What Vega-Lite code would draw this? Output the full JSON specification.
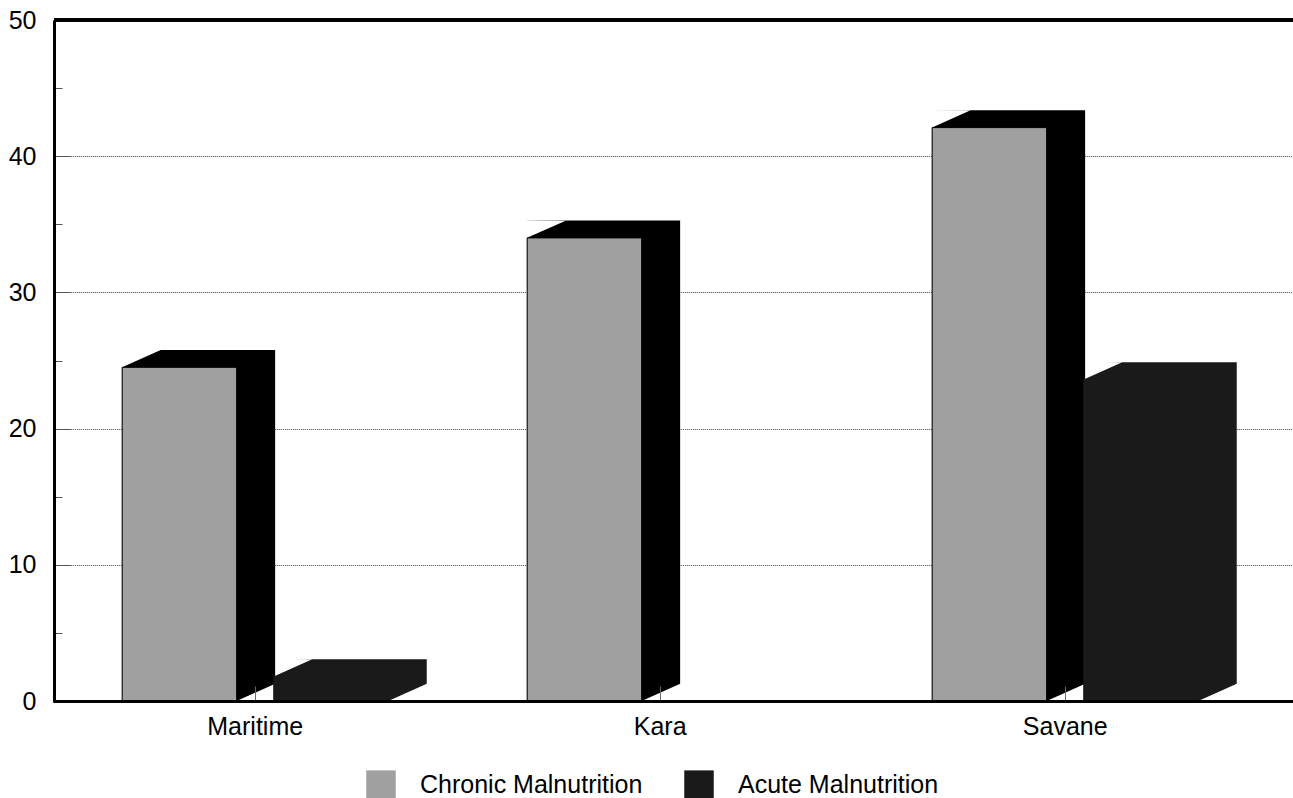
{
  "$schema": "https://vega.github.io/schema/vega-lite/v6.json",
  "width": 1239,
  "height": 681,
  "autosize": {"type": "none"},
  "padding": {"left": 54, "top": 20, "right": 0, "bottom": 97},
  "background": "white",
  "config": {
    "font": "Liberation Sans",
    "view": {"stroke": null},
    "axis": {"labelFont": "Liberation Sans", "labelColor": "black", "labelFontSize": 25, "title": null}
  },
  "data": {
    "values": [
      {"region": "Maritime", "series": "Chronic Malnutrition", "value": 24.5},
      {"region": "Maritime", "series": "Acute Malnutrition", "value": 1.8},
      {"region": "Kara", "series": "Chronic Malnutrition", "value": 34.0},
      {"region": "Savane", "series": "Chronic Malnutrition", "value": 42.1},
      {"region": "Savane", "series": "Acute Malnutrition", "value": 23.6}
    ]
  },
  "layer": [
    {
      "encoding": {
        "x": {
          "field": "region", "type": "nominal", "sort": ["Maritime", "Kara", "Savane"],
          "scale": {"range": [-1.3, 1239], "paddingInner": 0, "paddingOuter": 0.03125, "align": 0},
          "axis": {
            "labelAngle": 0, "domainColor": "black", "domainWidth": 3, "tickColor": "#666", "tickWidth": 1,
            "tickSize": -15, "labelPadding": 28, "zindex": 1
          }
        },
        "y": {
          "field": "value", "type": "quantitative",
          "scale": {"domain": [0, 50], "nice": false},
          "axis": {
            "values": [0, 5, 10, 15, 20, 25, 30, 35, 40, 45, 50],
            "labelExpr": "datum.value % 10 === 0 ? datum.label : ''",
            "domainColor": "black", "domainWidth": 3,
            "tickColor": "#555", "tickWidth": 1,
            "tickSize": {"condition": {"test": "datum.value % 10 === 0", "value": -16}, "value": -8},
            "labelPadding": 34,
            "grid": true, "gridColor": "#444", "gridWidth": 1, "gridDash": [1, 1],
            "gridOpacity": {"condition": {"test": "datum.value > 0 && datum.value < 50 && datum.value % 10 === 0", "value": 1}, "value": 0},
            "zindex": 0
          }
        }
      },
      "layer": [
        {
          "transform": [{"filter": "datum.series === 'Acute Malnutrition'"}],
          "mark": {"type": "bar", "width": 153, "xOffset": 95.05, "yOffset": -17.3, "y2Offset": 0.01, "fill": "#1a1a1a", "stroke": null},
          "encoding": {"y2": {"datum": 0}}
        },
        {
          "transform": [{"filter": "datum.series === 'Acute Malnutrition'"}],
          "mark": {"type": "point", "filled": true, "fill": "white", "opacity": 1, "strokeWidth": 0, "size": 1482,
                   "shape": "M-1.06,0.47L1,-0.449L-1.06,-0.47Z", "xOffset": 37.8, "yOffset": -8.65},
          "encoding": {}
        },
        {
          "transform": [{"filter": "datum.series === 'Acute Malnutrition'"}],
          "mark": {"type": "point", "filled": true, "fill": "white", "opacity": 1, "strokeWidth": 0, "size": 1482,
                   "shape": "M-1,0.449L1.06,-0.47L1.06,0.47Z", "xOffset": 152.3, "yOffset": -8.65},
          "encoding": {"y": {"datum": 0}}
        },
        {
          "transform": [{"filter": "datum.series === 'Chronic Malnutrition'"}],
          "mark": {"type": "bar", "width": 153, "xOffset": -56.55, "yOffset": -17.3, "y2Offset": 0.01, "fill": "#000000", "stroke": null},
          "encoding": {"y2": {"datum": 0}}
        },
        {
          "transform": [{"filter": "datum.series === 'Chronic Malnutrition'"}],
          "mark": {"type": "point", "filled": true, "fill": "white", "opacity": 1, "strokeWidth": 0, "size": 1482,
                   "shape": "M-1.06,0.47L1,-0.449L-1.06,-0.47Z", "xOffset": -113.8, "yOffset": -8.65},
          "encoding": {}
        },
        {
          "transform": [{"filter": "datum.series === 'Chronic Malnutrition'"}],
          "mark": {"type": "point", "filled": true, "fill": "white", "opacity": 1, "strokeWidth": 0, "size": 1482,
                   "shape": "M-1,0.449L1.06,-0.47L1.06,0.47Z", "xOffset": 0.7, "yOffset": -8.65},
          "encoding": {"y": {"datum": 0}}
        },
        {
          "transform": [{"filter": "datum.series === 'Chronic Malnutrition'"}],
          "mark": {"type": "bar", "width": 114.5, "xOffset": -75.8, "strokeWidth": 1, "stroke": "#000000"},
          "encoding": {
            "color": {
              "field": "series", "type": "nominal",
              "scale": {"domain": ["Chronic Malnutrition", "Acute Malnutrition"], "range": ["#a0a0a0", "#1a1a1a"]},
              "legend": {
                "orient": "none", "legendX": 312, "legendY": 750, "direction": "horizontal", "title": null,
                "symbolType": "square", "symbolSize": 870, "symbolStrokeWidth": 0,
                "labelFontSize": 25, "labelFont": "Liberation Sans", "labelColor": "black", "labelLimit": 400,
                "labelOffset": 24, "columnPadding": 41, "padding": 0
              }
            }
          }
        },
        {
          "transform": [{"filter": "datum.series === 'Acute Malnutrition'"}],
          "mark": {"type": "bar", "width": 114.5, "xOffset": 75.8, "strokeWidth": 1, "stroke": "#1a1a1a"},
          "encoding": {
            "color": {"field": "series", "type": "nominal"}
          }
        }
      ]
    },
    {
      "mark": {"type": "rule", "color": "black", "strokeWidth": 3},
      "encoding": {"y": {"datum": 50, "type": "quantitative"}}
    }
  ]
}
